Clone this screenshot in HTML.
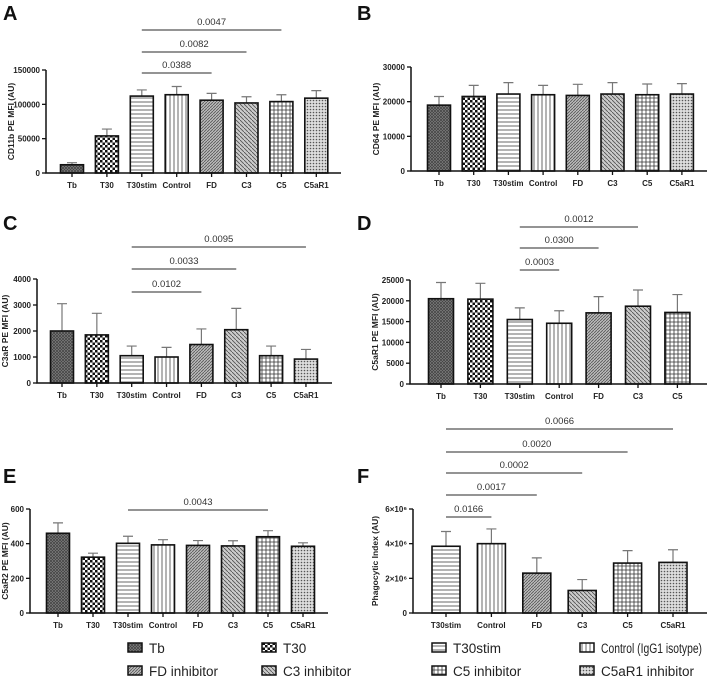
<!DOCTYPE html>
<html><head><meta charset="utf-8"><style>
body{margin:0;background:#fff}
svg{display:block;font-family:"Liberation Sans",Arial,sans-serif}
.tk{font-size:8px;font-weight:bold;fill:#222}
.yt{font-size:8.5px;font-weight:bold;fill:#222}
.pl{font-size:20px;font-weight:bold;fill:#111}
.sg{font-size:9.5px;fill:#333}
.lg{font-size:13.5px;fill:#222}
</style></head><body>
<svg id="fig" width="709" height="684" viewBox="0 0 709 684">
<defs>
<pattern id="p-tb" width="3" height="3" patternUnits="userSpaceOnUse"><rect width="3" height="3" fill="#888"/><path d="M0 3L3 0M0 0L3 3" stroke="#444" stroke-width="0.8"/></pattern>
<pattern id="p-t30" width="5" height="5" patternUnits="userSpaceOnUse"><rect width="5" height="5" fill="#fff"/><rect width="2.5" height="2.5" fill="#111"/><rect x="2.5" y="2.5" width="2.5" height="2.5" fill="#111"/></pattern>
<pattern id="p-stim" width="4" height="4" patternUnits="userSpaceOnUse"><rect width="4" height="4" fill="#fff"/><line x1="0" y1="2" x2="4" y2="2" stroke="#444" stroke-width="0.8"/></pattern>
<pattern id="p-ctrl" width="4" height="4" patternUnits="userSpaceOnUse"><rect width="4" height="4" fill="#fff"/><line x1="2" y1="0" x2="2" y2="4" stroke="#444" stroke-width="0.8"/></pattern>
<pattern id="p-fd" width="3" height="3" patternUnits="userSpaceOnUse"><rect width="3" height="3" fill="#bbb"/><path d="M0 3L3 0" stroke="#555" stroke-width="0.8"/></pattern>
<pattern id="p-c3" width="4" height="4" patternUnits="userSpaceOnUse"><rect width="4" height="4" fill="#ccc"/><path d="M0 0L4 4" stroke="#555" stroke-width="0.9"/></pattern>
<pattern id="p-c5" width="4" height="4" patternUnits="userSpaceOnUse"><rect width="4" height="4" fill="#fff"/><path d="M0 2H4M2 0V4" stroke="#333" stroke-width="0.8"/></pattern>
<pattern id="p-c5ar1" width="3" height="3" patternUnits="userSpaceOnUse"><rect width="3" height="3" fill="#ddd"/><circle cx="1.5" cy="1.5" r="0.8" fill="#555"/></pattern>
</defs>
</svg>
<script>
const catsAll = ["Tb","T30","T30stim","Control","FD","C3","C5","C5aR1"];
const fillsAll = ["p-tb","p-t30","p-stim","p-ctrl","p-fd","p-c3","p-c5","p-c5ar1"];
const aMeans = [12000,54000,112000,114000,106000,102000,104000,109000];
const aErrs  = [15000,64000,121000,126000,116000,111000,114000,120000];
const aTicks = [0,50000,100000,150000];
const aSigs  = [["0.0388",2,4],["0.0082",2,5],["0.0047",2,6]];
const bMeans = [19000,21500,22200,22000,21800,22200,22000,22200];
const bErrs  = [21500,24700,25500,24700,25000,25500,25100,25200];
const bTicks = [0,10000,20000,30000];
const cMeans = [2000,1850,1050,1000,1480,2050,1050,920];
const cErrs  = [3050,2680,1420,1370,2080,2870,1420,1290];
const cTicks = [0,1000,2000,3000,4000];
const cSigs  = [["0.0102",2,4],["0.0033",2,5],["0.0095",2,7]];
const dCats  = ["Tb","T30","T30stim","Control","FD","C3","C5"];
const dMeans = [20500,20400,15500,14600,17100,18700,17200];
const dErrs  = [24400,24200,18300,17600,21000,22600,21500];
const dTicks = [0,5000,10000,15000,20000,25000];
const dSigs  = [["0.0003",2,3],["0.0300",2,4],["0.0012",2,5]];
const eMeans = [460,322,402,393,390,387,440,385];
const eErrs  = [520,345,443,423,418,417,475,405];
const eTicks = [0,200,400,600];
const eSigs  = [["0.0043",2,6]];
const fCats  = ["T30stim","Control","FD","C3","C5","C5aR1"];
const fMeans = [3.85,4.0,2.3,1.3,2.88,2.92];
const fErrs  = [4.7,4.85,3.18,1.93,3.6,3.65];
const fTicks = [0,2,4,6];
const fTickLabels = ["0","2×10⁶","4×10⁶","6×10⁶"];
const fSigs  = [["0.0166",0,1],["0.0017",0,2],["0.0002",0,3],["0.0020",0,4],["0.0066",0,5]];

const NS="http://www.w3.org/2000/svg";
const svg=document.getElementById("fig");
function mk(tag,attrs,parent,txt){const e=document.createElementNS(NS,tag);for(const k in attrs)e.setAttribute(k,attrs[k]);if(txt!==undefined)e.textContent=txt;(parent||svg).appendChild(e);return e;}

function panel(o){
  const g=mk("g",{});
  
  
  const ys=v=>o.y0-(v/o.ymax)*(o.y0-o.ytop);
  const xs=i=>o.x1+i*o.step;
  const pl=mk("text",{x:o.lx,y:o.ly,class:"pl"},g,o.letter);
  
  
  o.means.forEach((m,i)=>{
    const x=xs(i);
    const eb=mk("path",{d:`M${x} ${ys(m)}V${ys(o.errs[i])}M${x-5} ${ys(o.errs[i])}H${x+5}`,stroke:"#777","stroke-width":1.2,fill:"none"},g);
    
    
    const r=mk("rect",{x:x-o.bw/2,y:ys(m),width:o.bw,height:o.y0-ys(m),fill:"url(#"+o.fills[i]+")",stroke:"#111","stroke-width":1.6},g);
    
    
    const tl=mk("text",{x:x,y:o.y0+15,class:"tk","text-anchor":"middle"},g,o.cats[i]);
    
    
    mk("line",{x1:x,x2:x,y1:o.y0,y2:o.y0+4,stroke:"#111","stroke-width":1.3},g);
  });
  const ax=mk("path",{d:`M${o.ax} ${o.ytop}V${o.y0}H${o.xend}`,stroke:"#111","stroke-width":1.5,fill:"none"},g);
  
  
  o.ticks.forEach((t,i)=>{
    mk("line",{x1:o.ax-4,x2:o.ax,y1:ys(t),y2:ys(t),stroke:"#111","stroke-width":1.3},g);
    const tl=mk("text",{x:o.ax-6,y:ys(t)+3,class:"tk","text-anchor":"end"},g,o.tickLabels?o.tickLabels[i]:String(t));
    
    
  });
  const cy=(o.ytop+o.y0)/2;
  const yt=mk("text",{x:o.ytx,y:cy,class:"yt","text-anchor":"middle",transform:`rotate(-90 ${o.ytx} ${cy})`},g,o.ytitle);
  
  
  (o.sigs||[]).forEach((s,k)=>{
    const y=o.sigY[k];
    const l=mk("line",{x1:xs(s[1]),x2:xs(s[2]),y1:y,y2:y,stroke:"#555","stroke-width":1.2},g);
    
    
    const t=mk("text",{x:(xs(s[1])+xs(s[2]))/2,y:y-5,class:"sg","text-anchor":"middle"},g,s[0]);
    
    
  });
}

panel({letter:"A",lx:3,ly:20,ax:46,xend:341,y0:173,ytop:70,ymax:150000,x1:72,step:34.9,bw:23,cats:catsAll,fills:fillsAll,means:aMeans,errs:aErrs,ticks:aTicks,ytx:14,ytitle:"CD11b PE MFI (AU)",sigs:aSigs,sigY:[73,52,30]});
panel({letter:"B",lx:357,ly:20,ax:411,xend:707,y0:171,ytop:67,ymax:30000,x1:439,step:34.7,bw:23,cats:catsAll,fills:fillsAll,means:bMeans,errs:bErrs,ticks:bTicks,ytx:379,ytitle:"CD64 PE MFI (AU)"});
panel({letter:"C",lx:3,ly:230,ax:37,xend:332,y0:383,ytop:279,ymax:4000,x1:62,step:34.85,bw:23,cats:catsAll,fills:fillsAll,means:cMeans,errs:cErrs,ticks:cTicks,ytx:8,ytitle:"C3aR PE MFI (AU)",sigs:cSigs,sigY:[292,269,247]});
panel({letter:"D",lx:357,ly:230,ax:410,xend:707,y0:384,ytop:280,ymax:25000,x1:441,step:39.4,bw:25,cats:dCats,fills:fillsAll.slice(0,7),means:dMeans,errs:dErrs,ticks:dTicks,ytx:378,ytitle:"C5aR1 PE MFI (AU)",sigs:dSigs,sigY:[270,248,227]});
panel({letter:"E",lx:3,ly:483,ax:30,xend:328,y0:613,ytop:509,ymax:600,x1:58,step:35,bw:23,cats:catsAll,fills:fillsAll,means:eMeans,errs:eErrs,ticks:eTicks,ytx:8,ytitle:"C5aR2 PE MFI (AU)",sigs:eSigs,sigY:[510]});
panel({letter:"F",lx:357,ly:483,ax:413,xend:707,y0:613,ytop:509,ymax:6,x1:446,step:45.4,bw:28,cats:fCats,fills:fillsAll.slice(2),means:fMeans,errs:fErrs,ticks:fTicks,tickLabels:fTickLabels,ytx:378,ytitle:"Phagocytic Index (AU)",sigs:fSigs,sigY:[517,495,473,452,429]});

const legNames=["Tb","T30","T30stim","Control (IgG1 isotype)","FD inhibitor","C3 inhibitor","C5 inhibitor","C5aR1 inhibitor"];
const legCols=[128,262,432,580];
const legRows=[648,671];
legNames.forEach((n,i)=>{
  const x=legCols[i%4], y=legRows[Math.floor(i/4)];
  const g=mk("g",{});
  
  
  mk("rect",{x:x,y:y-5,width:14,height:9,fill:"url(#"+fillsAll[i]+")",stroke:"#111","stroke-width":1.5},g);
  const t=mk("text",{x:x+21,y:y+5,class:"lg"},g,n);
  if(i===3){t.setAttribute("textLength","101");t.setAttribute("lengthAdjust","spacingAndGlyphs");}
});
</script>
</body></html>
